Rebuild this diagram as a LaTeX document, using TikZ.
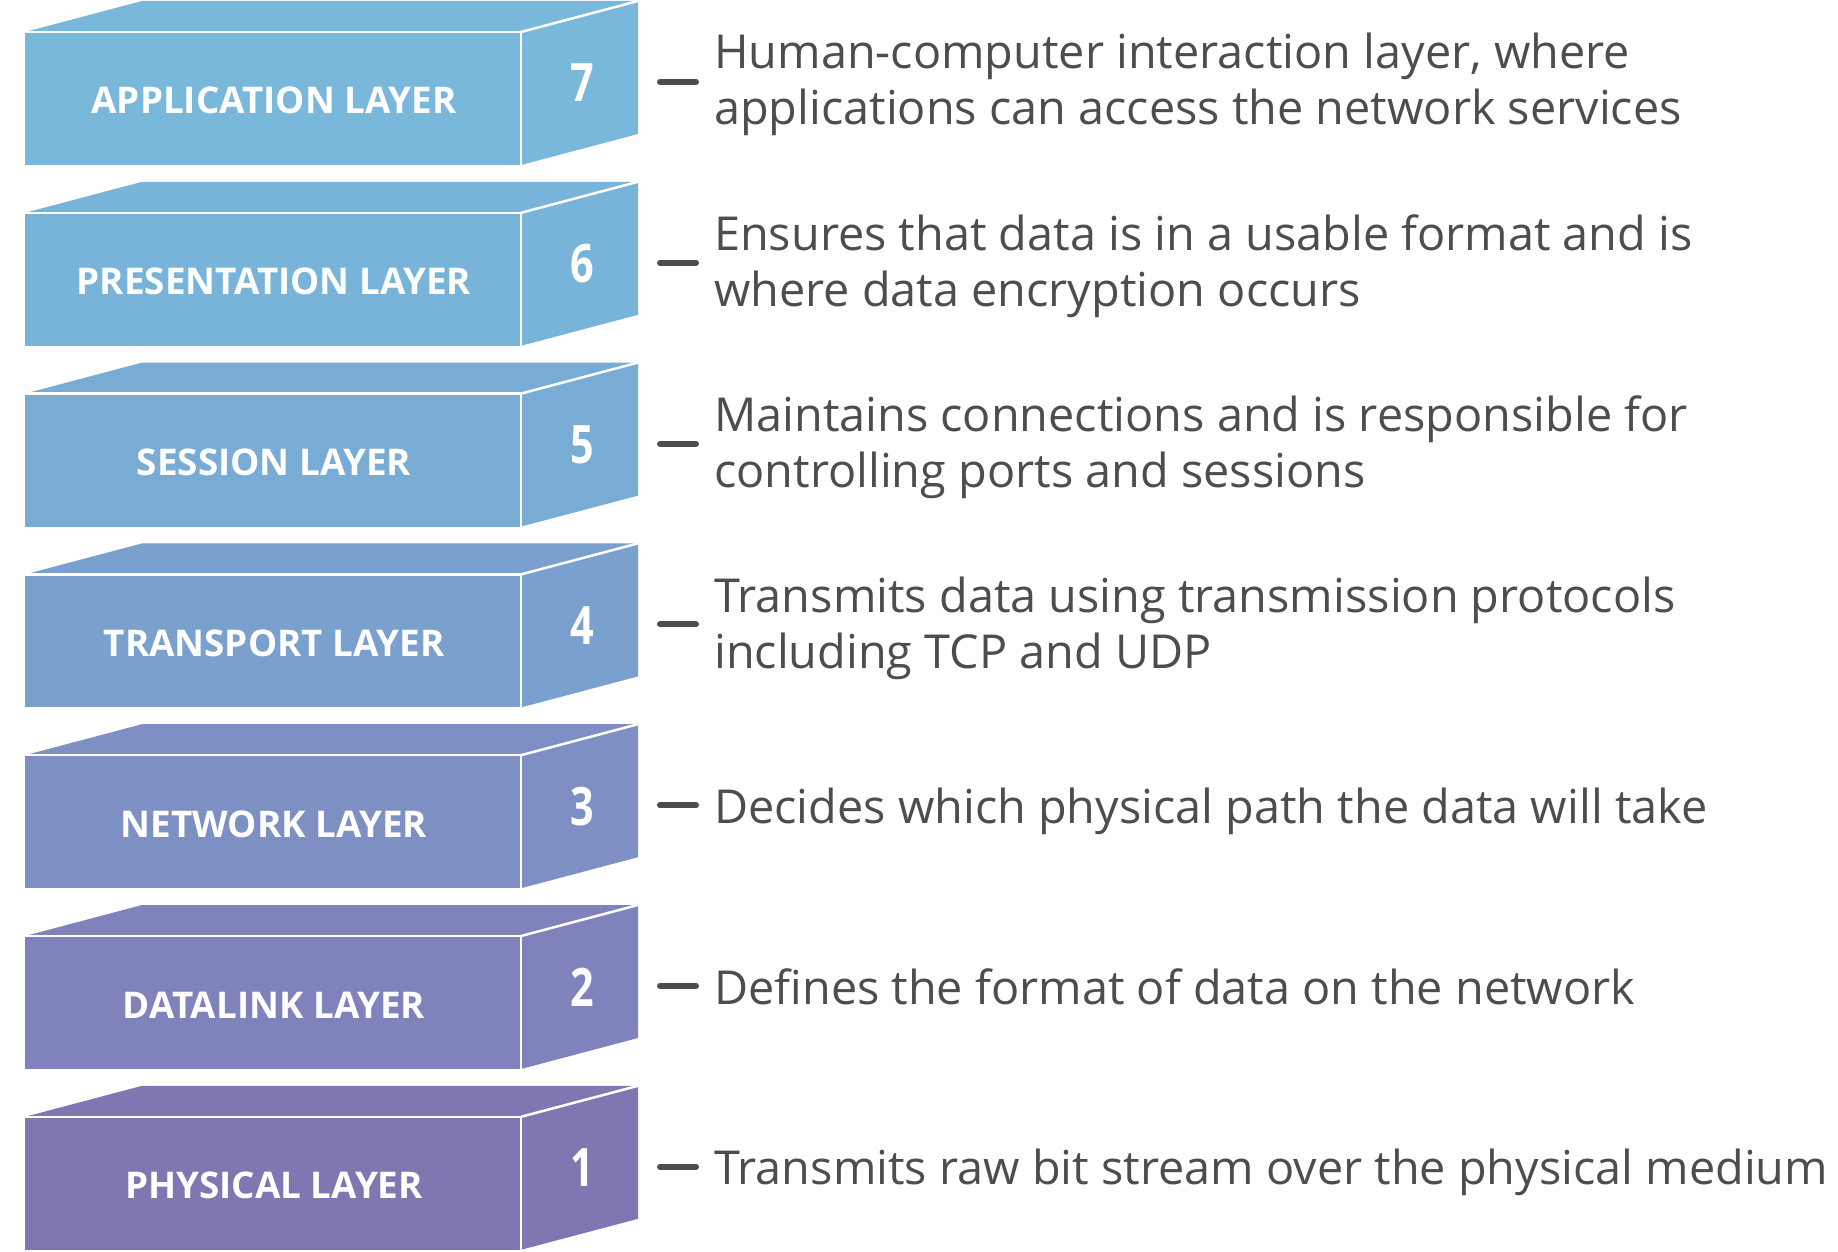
\documentclass[tikz,border=0pt]{standalone}
\usepackage{fontspec}
\setmainfont{Open Sans}
\newfontfamily\numfont[FakeStretch=0.78]{Open Sans}
\definecolor{c7}{RGB}{121,184,219}
\definecolor{c6}{RGB}{120,180,217}
\definecolor{c5}{RGB}{120,172,213}
\definecolor{c4}{RGB}{122,160,206}
\definecolor{c3}{RGB}{125,143,195}
\definecolor{c2}{RGB}{127,130,187}
\definecolor{c1}{RGB}{128,118,178}
\definecolor{txtgray}{RGB}{77,77,77}
\definecolor{tickgray}{RGB}{77,77,77}
\begin{document}
\begin{tikzpicture}[x=1pt,y=-1pt,
  edge/.style={draw=white, line width=2.5pt},
  lname/.style={text=white, font=\bfseries\fontsize{36.8}{40}\selectfont, inner sep=0pt, anchor=base},
  lnum/.style={text=white, font=\numfont\bfseries\fontsize{53}{60}\selectfont, inner sep=0pt, anchor=base},
  desc/.style={text=txtgray, font=\fontsize{46.8}{56}\selectfont, align=left, anchor=base west, inner sep=0pt},
  tick/.style={draw=tickgray, line width=6pt, line cap=round}]
\useasboundingbox (0,0) rectangle (1838,1252);
% one block per layer: front face, top face, side face, number, label, tick, description
% (\dy is the baseline of the last description line below the front top edge)
\foreach \n/\col/\name/\dy/\desc in {
  7/c7/APPLICATION LAYER/93/{Human-computer interaction layer, where\\applications can access the network services},
  6/c6/PRESENTATION LAYER/94/{Ensures that data is in a usable format and is\\where data encryption occurs},
  5/c5/SESSION LAYER/94/{Maintains connections and is responsible for\\controlling ports and sessions},
  4/c4/TRANSPORT LAYER/94/{Transmits data using transmission protocols\\including TCP and UDP},
  3/c3/NETWORK LAYER/68/{Decides which physical path the data will take},
  2/c2/DATALINK LAYER/68/{Defines the format of data on the network},
  1/c1/PHYSICAL LAYER/68/{Transmits raw bit stream over the physical medium}}{
  \pgfmathsetmacro\yt{32+180.8*(7-\n)}
  \pgfmathsetmacro\yb{\yt+133}
  % top and side faces
  \fill[\col] (25,\yt) -- ++(117,-31) -- (638,\yt-31) -- (638,\yb-31) -- (521,\yb) -- (521,\yt) -- cycle;
  % front face
  \fill[\col] (25,\yt) rectangle (521,\yb);
  \draw[edge] (25,\yt) -- (521,\yt) -- (521,\yb);
  \draw[edge] (521,\yt) -- (638,\yt-31);
  \node[lname] (name\n) at (274,\yt+82) {\name};
  \node[lnum] (num\n) at (582,\yt+70) {\n};
  \coordinate (ta\n) at (660,\yt+50);
  \coordinate (tb\n) at (696,\yt+50);
  \draw[tick] (ta\n) -- (tb\n);
  \node[desc] (desc\n) at (714,\yt+\dy) {\desc};
}
\end{tikzpicture}
\end{document}
